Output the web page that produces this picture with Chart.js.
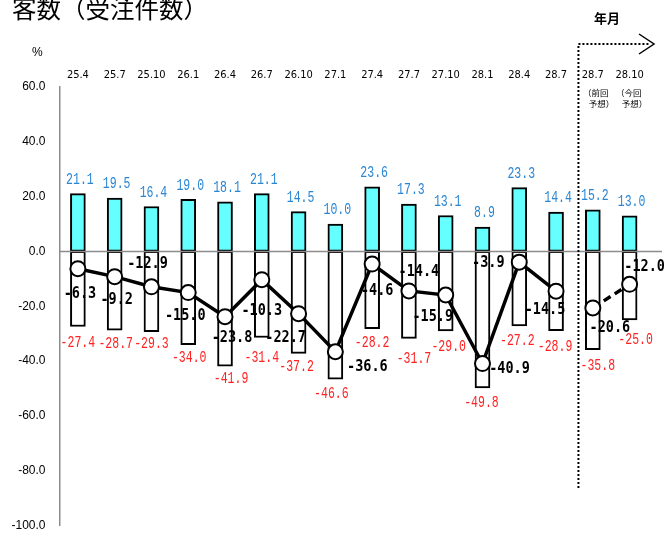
<!DOCTYPE html>
<html>
<head>
<meta charset="utf-8">
<script src="https://cdn.jsdelivr.net/npm/chart.js@4.4.1/dist/chart.umd.min.js"></script>
<style>
  body { margin: 0; background: #fff; }
  #wrap { position: relative; width: 664px; height: 535px; overflow: hidden; }
  #c { position: absolute; left: 0; top: 0; }
  .txt { position: absolute; white-space: nowrap; color: #000; font-family: "Noto Sans CJK JP", sans-serif; }
  #title { left: 12px; top: -5px; font-size: 24.5px; line-height: 25px; }
  #ym { left: 594px; top: 10px; font-size: 13px; line-height: 15px; font-weight: bold; }
  #pct { left: 32px; top: 45px; font-size: 12px; line-height: 14px; font-family: "Liberation Sans", Arial, sans-serif; }
  .note { font-size: 8.5px; line-height: 11px; text-align: left; }
</style>
</head>
<body>
<div id="wrap">
  <canvas id="c" width="664" height="535"></canvas>
  <div class="txt" id="title">客数（受注件数）</div>
  <div class="txt" id="ym">年月</div>
  <div class="txt" id="pct">%</div>
  <div class="txt note" style="left:583px;top:87px;">（前回<br>&nbsp;&nbsp;&nbsp;予想）</div>
  <div class="txt note" style="left:616px;top:87px;">（今回<br>&nbsp;&nbsp;&nbsp;予想）</div>
</div>
<script>
// 年月 (the last two are forecasts: previous / current)
var labels = ["25.4","25.7","25.10","26.1","26.4","26.7","26.10","27.1","27.4","27.7","27.10","28.1","28.4","28.7","28.7","28.10"];
// 増加 %
var upPct = [21.1,19.5,16.4,19.0,18.1,21.1,14.5,10.0,23.6,17.3,13.1,8.9,23.3,14.4,15.2,13.0];
// 減少 %
var downPct = [-27.4,-28.7,-29.3,-34.0,-41.9,-31.4,-37.2,-46.6,-28.2,-31.7,-29.0,-49.8,-27.2,-28.9,-35.8,-25.0];
// DI 実績
var diActual = [-6.3,-9.2,-12.9,-15.0,-23.8,-10.3,-22.7,-36.6,-4.6,-14.4,-15.9,-40.9,-3.9,-14.5,null,null];
// DI 予想
var diForecast = [null,null,null,null,null,null,null,null,null,null,null,null,null,null,-20.6,-12.0];

var yMin = -100, yMax = 60, yStep = 20;

// label nudges (px) for the value texts
var diLabelOff = [[2,25],[2,23],[-4,-23],[-3,24],[7,21],[0,31],[-13,24],[32,15],[5,27],[10,-19],[-13,22],[27,6],[-31,1],[-11,19],[17,20],[15,-17]];
var downLabelOff = [[0,16],[1,14],[0,12],[1,13],[6,12],[0,20],[-2,13],[-4,15],[0,14],[5,20],[3,16],[-1,15],[-2,15],[-1,16],[5,16],[6,20]];

var BLUE = "#2b86d2", RED = "#ff2222";

function drawText(ctx, txt, x, y, font, color, sx) {
    ctx.save();
    ctx.translate(x, y);
    ctx.scale(sx, 1);
    ctx.font = font;
    ctx.fillStyle = color;
    ctx.textAlign = "center";
    ctx.textBaseline = "middle";
    ctx.fillText(txt, 0, 0);
    ctx.restore();
}

var extras = {
    id: "extras",
    afterDatasetDraw: function(chart, args) {
        // zero line over the bars
        if (args.index !== 0) return;
        var ctx = chart.ctx;
        var y0 = chart.scales.y.getPixelForValue(0);
        ctx.save();
        ctx.strokeStyle = "#8c8c8c";
        ctx.lineWidth = 1.5;
        ctx.beginPath();
        ctx.moveTo(chart.chartArea.left, y0);
        ctx.lineTo(chart.width - 2, y0);
        ctx.stroke();
        ctx.restore();
    },
    afterDatasetsDraw: function(chart) {
        var ctx = chart.ctx;
        var up = chart.getDatasetMeta(0).data;
        var dn = chart.getDatasetMeta(1).data;
        var la = chart.getDatasetMeta(2).data;
        var lf = chart.getDatasetMeta(3).data;
        for (var i = 0; i < labels.length; i++) {
            drawText(ctx, upPct[i].toFixed(1), up[i].x + 2, up[i].y - 14, "16px 'Liberation Mono', monospace", BLUE, 0.72);
            drawText(ctx, downPct[i].toFixed(1), dn[i].x + downLabelOff[i][0], dn[i].y + downLabelOff[i][1], "16px 'Liberation Mono', monospace", RED, 0.72);
            var v = diActual[i] !== null ? diActual[i] : diForecast[i];
            var p = diActual[i] !== null ? la[i] : lf[i];
            drawText(ctx, v.toFixed(1), p.x + diLabelOff[i][0], p.y + diLabelOff[i][1], "bold 15px 'DejaVu Sans Mono', monospace", "#000", 0.9);
        }
        // dotted arrow marking the forecast part
        var xs = chart.scales.x;
        var xd = (xs.getPixelForValue(13) + xs.getPixelForValue(14)) / 2 + 4;
        ctx.save();
        ctx.strokeStyle = "#000";
        ctx.lineWidth = 2;
        ctx.setLineDash([2, 2]);
        ctx.beginPath();
        ctx.moveTo(xd, 488);
        ctx.lineTo(xd, 44);
        ctx.lineTo(650, 44);
        ctx.stroke();
        ctx.setLineDash([]);
        ctx.lineWidth = 1.5;
        ctx.beginPath();
        ctx.moveTo(639, 34);
        ctx.lineTo(654, 44);
        ctx.lineTo(639, 54);
        ctx.stroke();
        ctx.restore();
    }
};

var ctx = document.getElementById("c").getContext("2d");
var chart = new Chart(ctx, {
    type: "bar",
    data: {
        labels: labels,
        datasets: [
            {
                label: "増加",
                data: upPct,
                backgroundColor: "#66ffff",
                borderColor: "#000",
                borderWidth: 2,
                borderSkipped: false,
                barThickness: 15,
                grouped: false,
                order: 2
            },
            {
                label: "減少",
                data: downPct,
                backgroundColor: "#ffffff",
                borderColor: "#000",
                borderWidth: 2,
                borderSkipped: false,
                barThickness: 15,
                grouped: false,
                order: 3
            },
            {
                type: "line",
                label: "DI",
                data: diActual,
                borderColor: "#000",
                borderWidth: 3.5,
                pointRadius: 7.5,
                pointBackgroundColor: "#fff",
                pointBorderColor: "#000",
                pointBorderWidth: 2,
                spanGaps: false,
                tension: 0,
                order: 0
            },
            {
                type: "line",
                label: "DI予想",
                data: diForecast,
                borderColor: "#000",
                borderWidth: 3.5,
                borderDash: [8, 5],
                pointRadius: 7.5,
                pointBackgroundColor: "#fff",
                pointBorderColor: "#000",
                pointBorderWidth: 2,
                tension: 0,
                order: 1
            }
        ]
    },
    options: {
        responsive: false,
        animation: false,
        layout: { padding: { top: 0, left: 0, right: 16, bottom: 7 } },
        plugins: {
            legend: { display: false },
            tooltip: { enabled: false }
        },
        scales: {
            x: {
                position: "top",
                grid: { display: false, drawTicks: false },
                border: { display: false },
                ticks: {
                    color: "#000",
                    font: { family: "'Liberation Sans Narrow', 'DejaVu Sans Condensed', Arial, sans-serif", size: 11 },
                    padding: 5,
                    maxRotation: 0,
                    autoSkip: false
                },
                afterFit: function(s) { s.height = 87; }
            },
            y: {
                min: yMin,
                max: yMax,
                grid: { display: false, drawTicks: false },
                border: { display: true, color: "#8c8c8c", width: 1.5 },
                ticks: {
                    stepSize: yStep,
                    color: "#000",
                    font: { family: "'Liberation Sans', Arial, sans-serif", size: 12 },
                    padding: 14,
                    callback: function(v) { return v.toFixed(1); }
                },
                afterFit: function(s) {
                    s.width = 59.5;
                    s.paddingTop = 0;
                    s.paddingBottom = 0;
                }
            }
        }
    },
    plugins: [extras]
});
</script>
</body>
</html>
